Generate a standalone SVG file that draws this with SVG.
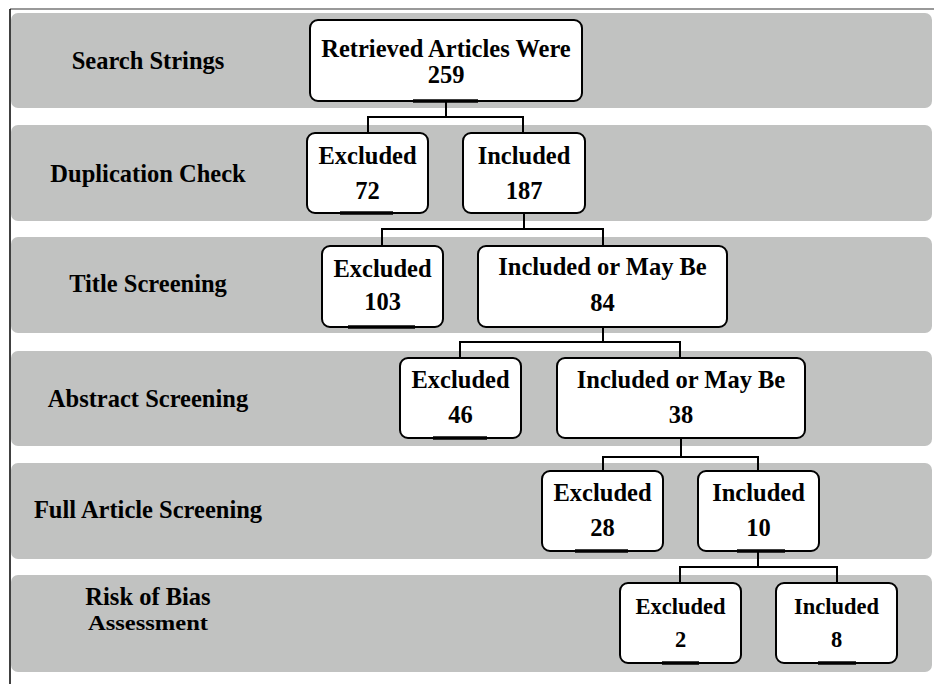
<svg xmlns="http://www.w3.org/2000/svg" width="934" height="684" viewBox="0 0 934 684">
<style>
.band{fill:#c1c2c1}
.lbl{font-family:"Liberation Serif","Times New Roman",serif;font-weight:bold;font-size:24.5px;fill:#000;text-anchor:middle}
.box{fill:#fff;stroke:#000;stroke-width:2}
.t{font-family:"Liberation Serif","Times New Roman",serif;font-weight:bold;font-size:24.5px;fill:#000;text-anchor:middle}
.sm{font-size:22.5px}
.con{fill:none;stroke:#000;stroke-width:2}
.ul{stroke:#000;stroke-width:3.5}
</style>
<rect width="934" height="684" fill="#fff"/>
<line x1="10" y1="9" x2="934" y2="9" stroke="#777" stroke-width="1.5"/>
<line x1="10" y1="9" x2="10" y2="684" stroke="#000" stroke-width="1.5"/>
<g id="bands">
<rect class="band" x="11" y="13" width="921" height="95" rx="7"/>
<rect class="band" x="11" y="125" width="921" height="96" rx="7"/>
<rect class="band" x="11" y="237" width="921" height="96" rx="7"/>
<rect class="band" x="11" y="351" width="921" height="95" rx="7"/>
<rect class="band" x="11" y="463" width="921" height="96" rx="7"/>
<rect class="band" x="11" y="575" width="921" height="97" rx="7"/>
</g>
<g id="stage-labels">
<text class="lbl" x="148" y="69">Search Strings</text>
<text class="lbl" x="148" y="182">Duplication Check</text>
<text class="lbl" x="148" y="292">Title Screening</text>
<text class="lbl" x="148" y="407">Abstract Screening</text>
<text class="lbl" x="148" y="518">Full Article Screening</text>
<text class="lbl" x="148" y="605">Risk of Bias</text>
<text class="lbl" x="148" y="630" style="font-size:21px" textLength="120" lengthAdjust="spacingAndGlyphs">Assessment</text>
</g>
<g id="connectors">
<polyline class="con" points="446,101 446,117"/>
<polyline class="con" points="368,133 368,117 523,117 523,133"/>
<polyline class="con" points="524,213 524,229"/>
<polyline class="con" points="382,246 382,229 603,229 603,246"/>
<polyline class="con" points="603,327 603,342"/>
<polyline class="con" points="460,358 460,342 680,342 680,358"/>
<polyline class="con" points="681,438 681,457"/>
<polyline class="con" points="603,471 603,457 758,457 758,471"/>
<polyline class="con" points="758,551 758,567"/>
<polyline class="con" points="680,583 680,567 837,567 837,583"/>
</g>
<g id="n-retrieved">
<rect class="box" x="310" y="20" width="272" height="81" rx="8"/>
<line class="ul" x1="413" y1="101" x2="478" y2="101"/>
<text class="t" x="446" y="57">Retrieved Articles Were</text>
<text class="t" x="446" y="83">259</text>
</g>
<g id="n-dup-excluded">
<rect class="box" x="307" y="133" width="121" height="80" rx="8"/>
<line class="ul" x1="340" y1="213" x2="393" y2="213"/>
<text class="t" x="367.5" y="164">Excluded</text>
<text class="t" x="367.5" y="199">72</text>
</g>
<g id="n-dup-included">
<rect class="box" x="463" y="133" width="122" height="80" rx="8"/>
<text class="t" x="524" y="164">Included</text>
<text class="t" x="524" y="199">187</text>
</g>
<g id="n-title-excluded">
<rect class="box" x="322" y="246" width="121" height="81" rx="8"/>
<line class="ul" x1="348" y1="327" x2="415" y2="327"/>
<text class="t" x="382.5" y="277">Excluded</text>
<text class="t" x="382.5" y="310">103</text>
</g>
<g id="n-title-included">
<rect class="box" x="478" y="246" width="249" height="81" rx="8"/>
<text class="t" x="602.5" y="275">Included or May Be</text>
<text class="t" x="602.5" y="311">84</text>
</g>
<g id="n-abs-excluded">
<rect class="box" x="400" y="358" width="121" height="80" rx="8"/>
<line class="ul" x1="433" y1="438" x2="487" y2="438"/>
<text class="t" x="460.5" y="388">Excluded</text>
<text class="t" x="460.5" y="423">46</text>
</g>
<g id="n-abs-included">
<rect class="box" x="557" y="358" width="248" height="80" rx="8"/>
<text class="t" x="681" y="388">Included or May Be</text>
<text class="t" x="681" y="423">38</text>
</g>
<g id="n-full-excluded">
<rect class="box" x="542" y="471" width="121" height="80" rx="8"/>
<line class="ul" x1="575" y1="551" x2="628" y2="551"/>
<text class="t" x="602.5" y="501">Excluded</text>
<text class="t" x="602.5" y="536">28</text>
</g>
<g id="n-full-included">
<rect class="box" x="698" y="471" width="121" height="80" rx="8"/>
<line class="ul" x1="737" y1="551" x2="785" y2="551"/>
<text class="t" x="758.5" y="501">Included</text>
<text class="t" x="758.5" y="536">10</text>
</g>
<g id="n-rob-excluded">
<rect class="box" x="620" y="583" width="121" height="80" rx="8"/>
<line class="ul" x1="662" y1="663" x2="699" y2="663"/>
<text class="t sm" x="680.5" y="614">Excluded</text>
<text class="t sm" x="680.5" y="647">2</text>
</g>
<g id="n-rob-included">
<rect class="box" x="776" y="583" width="121" height="80" rx="8"/>
<line class="ul" x1="818" y1="663" x2="856" y2="663"/>
<text class="t sm" x="836.5" y="614">Included</text>
<text class="t sm" x="836.5" y="647">8</text>
</g>
</svg>
